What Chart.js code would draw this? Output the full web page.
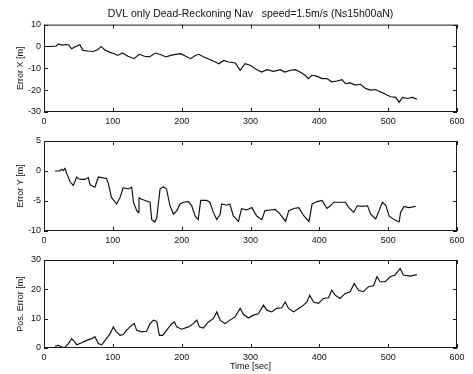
<!DOCTYPE html>
<html>
<head>
<meta charset="utf-8">
<script src="https://cdn.jsdelivr.net/npm/chart.js@4/dist/chart.umd.min.js"></script>
<style>
  html, body { margin: 0; padding: 0; background: #fff; }
  #wrap { position: relative; width: 473px; height: 374px; overflow: hidden; }
  canvas { position: absolute; left: 0; }
</style>
</head>
<body>
<div id="wrap">
  <canvas id="cX" width="473" height="125" style="top:0"></canvas>
  <canvas id="cY" width="473" height="119" style="top:125px"></canvas>
  <canvas id="cP" width="473" height="130" style="top:244px"></canvas>
</div>
<script>
// Dead-reckoning navigation errors (DVL only), time in seconds, errors in metres
const timeX = [0,10,18,21,25.5,32.7,36,40,44.7,52,56.7,64,71,78,83,88,95,102,107,114,122,131,138,146,153,162,170,177,184,191,198.6,206,213,220,225,232,242,249,254,261,268,278,285,292,299.5,309,316,324,333.5,343,350,358,365,372,379.4,384,389,396,404,411,418,425.5,433,438,445,452,459.6,467,474,481.6,489,494,499,503.7,511,516,521,527.6,535,542];
const errorX = [0,0,0.2,1.2,0.6,0.9,0.7,-1.1,-0.3,0.8,-1.8,-2.1,-2.3,-1.5,0,-1.5,-2.6,-3.3,-4.1,-3,-4.5,-5.6,-3.6,-4.5,-4.8,-3,-3.8,-4.8,-4.1,-3.6,-3.3,-4.5,-5.6,-4.1,-3.6,-4.8,-6.1,-7.1,-7.9,-6.4,-7.1,-7.6,-10.9,-7.9,-8.6,-10.6,-11.7,-10.6,-11.4,-10.6,-11.7,-10.9,-10.6,-11.7,-13.2,-14.7,-13.2,-13.6,-14.7,-14.7,-16.2,-15.8,-15.2,-17,-16.7,-17.7,-17.3,-19.2,-20,-19.7,-20.8,-21.5,-22.3,-23,-23.3,-25.5,-23.3,-23.8,-23.3,-24.2];

const timeY = [16,23,25.7,28,30.5,33,37.8,42.6,47.5,50,54.7,59.6,64.4,67,74,79,83.8,91,93.5,98,105.6,110.5,115,122.6,127.4,130,134.7,137,138,142,149,154,156.5,161,163.8,168.6,173.4,178,183,188,193,197.7,202.5,209.8,214.6,219.5,224,227.7,236.4,241,246,251,256,258,265.5,270,275,282.5,287,294.6,302,309,316.5,321,328.5,336,343,351,355.6,363,370,377.6,385,389.5,396.7,404,411,416,421,428,438,443,450,455,462,470,474.6,481.9,486.8,491.6,496.5,501.3,508.6,516,518,523,530,540];
const errorY = [0,0,0.3,0.1,0.45,-0.4,-1.8,-2.4,-1,-1.3,-1.4,-1.4,-1.1,-2.3,-2.7,-1,-1.1,-1.25,-2.1,-4.4,-5.5,-4.4,-2.8,-3,-2.7,-5.2,-6.6,-6.9,-4.5,-4.7,-5,-5.2,-8.1,-8.5,-7.8,-3,-2.6,-3,-5.8,-7.2,-6.6,-5.5,-5.2,-5.1,-5.8,-7.5,-8.1,-4.9,-4.9,-5.2,-6.9,-8.1,-7.2,-5.5,-5.7,-5.5,-7.5,-8.4,-6.3,-6.5,-6.1,-7.5,-8.1,-6.6,-6.5,-6.4,-7.2,-8.4,-6.6,-6.25,-6.1,-7.5,-8.4,-5.5,-5.1,-4.9,-6.25,-5.8,-5.2,-5.2,-5.2,-6.1,-6.9,-5.8,-5.9,-5.8,-7.2,-8,-6.6,-5.2,-5.7,-7.5,-8.1,-8.5,-6.9,-5.9,-6.1,-5.9];

const timeP = [16,20.8,25.7,30.5,35.4,40.2,45,47.5,54.7,62,69.3,74,79,83.8,88.7,96,100.8,104.7,110.5,115,120,127.4,131,134.7,142,149,154,159,163.8,167.6,172.5,178,185.5,189.4,192.8,200,209.8,217,222,225.8,231.6,238.8,246,251,256,263,270,277.6,285,289.7,297,304,311.5,318.8,323.6,331,338,345.6,350.4,355.3,362.5,370,377,382,386,391.6,398.8,406,413.4,418,423,430,437.6,444.8,450.6,457,464,471.5,478.8,483.6,488.4,495.7,503,510,517.4,522,532,541.7];
const posError = [0.6,0.9,0.3,0.2,1.5,3.2,2,1.1,1.8,2.6,3.2,3.8,1.5,1.1,2.6,4.9,7.2,5.7,4.3,4.6,6,7.8,8.3,6,5.5,5.7,8.3,9.5,9.1,4.3,4.3,6,8.3,8.9,7.2,6.4,7.2,8.3,9.5,7.2,6.8,8.9,10,12.3,9.5,8.3,9.5,10.6,13.5,11.5,10.2,11.2,11.7,14.6,12.9,12.3,13.5,13.7,15.7,13.5,12.3,13.5,14.6,15.7,18,15.7,15.2,16.9,17.1,19.7,18,16.9,18.6,19.2,22,19.7,19.2,20.9,21.2,24.3,22.6,22.6,24.3,24.9,27.1,24.9,24.5,25];

const timeTicks = [0, 100, 200, 300, 400, 500, 600];
const chartTitle = 'DVL only Dead-Reckoning Nav   speed=1.5m/s (Ns15h00aN)';

const FONT = "'Liberation Sans', Arial, Helvetica, sans-serif";

// box around the axes with short inward tick marks on all four sides
const boxTicks = {
  id: 'boxTicks',
  afterDatasetsDraw(chart) {
    const { ctx, chartArea: a, scales: { x, y } } = chart;
    const L = 4;
    ctx.save();
    ctx.strokeStyle = '#1a1a1a';
    ctx.lineWidth = 1;
    ctx.strokeRect(a.left + 0.5, a.top + 0.5, a.right - a.left - 1, a.bottom - a.top - 1);
    ctx.beginPath();
    x.ticks.forEach(t => {
      const p = Math.round(x.getPixelForValue(t.value)) + 0.5;
      ctx.moveTo(p, a.bottom); ctx.lineTo(p, a.bottom - L);
      ctx.moveTo(p, a.top); ctx.lineTo(p, a.top + L);
    });
    y.ticks.forEach(t => {
      const p = Math.round(y.getPixelForValue(t.value)) + 0.5;
      ctx.moveTo(a.left, p); ctx.lineTo(a.left + L, p);
      ctx.moveTo(a.right, p); ctx.lineTo(a.right - L, p);
    });
    ctx.stroke();
    ctx.restore();
  }
};

function makePanel(id, times, values, cfg) {
  const pts = times.map((t, i) => ({ x: t, y: values[i] }));
  return new Chart(document.getElementById(id), {
    type: 'line',
    data: { datasets: [{ data: pts, borderColor: '#0d0d0d', borderWidth: 1.15, pointRadius: 0, tension: 0, fill: false }] },
    plugins: [boxTicks],
    options: {
      responsive: false,
      animation: false,
      devicePixelRatio: 1,
      layout: { padding: { left: 0, right: 16, top: cfg.padTop, bottom: 0 } },
      plugins: {
        legend: { display: false },
        tooltip: { enabled: false },
        title: cfg.title ? {
          display: true, text: cfg.title, fullSize: false, color: '#111',
          font: { family: FONT, size: 10.5, weight: 'normal' },
          padding: { top: 8, bottom: 4 }
        } : { display: false }
      },
      scales: {
        x: {
          type: 'linear', min: 0, max: 600,
          afterBuildTicks: s => { s.ticks = timeTicks.map(v => ({ value: v })); },
          afterFit: s => { s.height = cfg.xHeight; },
          grid: { display: false, drawTicks: false },
          border: { display: false },
          ticks: { color: '#111', font: { family: FONT, size: 9 }, padding: 4, maxRotation: 0 },
          title: cfg.xTitle ? {
            display: true, text: cfg.xTitle, color: '#111',
            font: { family: FONT, size: 9 }, padding: { top: 0, bottom: 2 }
          } : { display: false }
        },
        y: {
          min: cfg.yMin, max: cfg.yMax,
          ticks: { stepSize: cfg.yStep, color: '#111', font: { family: FONT, size: 9 }, padding: 3 },
          afterFit: s => { s.width = 44; },
          grid: { display: false, drawTicks: false },
          border: { display: false },
          title: {
            display: true, text: cfg.yTitle, color: '#111',
            font: { family: FONT, size: 9 }, padding: { top: 15, bottom: 0 }
          }
        }
      }
    }
  });
}

makePanel('cX', timeX, errorX, { title: chartTitle, padTop: 0, xHeight: 13, yMin: -30, yMax: 10, yStep: 10, yTitle: 'Error X [m]' });
makePanel('cY', timeY, errorY, { padTop: 16, xHeight: 13, yMin: -10, yMax: 5, yStep: 5, yTitle: 'Error Y [m]' });
makePanel('cP', timeP, posError, { padTop: 16, xHeight: 26, yMin: 0, yMax: 30, yStep: 10, yTitle: 'Pos. Error [m]', xTitle: 'Time [sec]' });
</script>
</body>
</html>
